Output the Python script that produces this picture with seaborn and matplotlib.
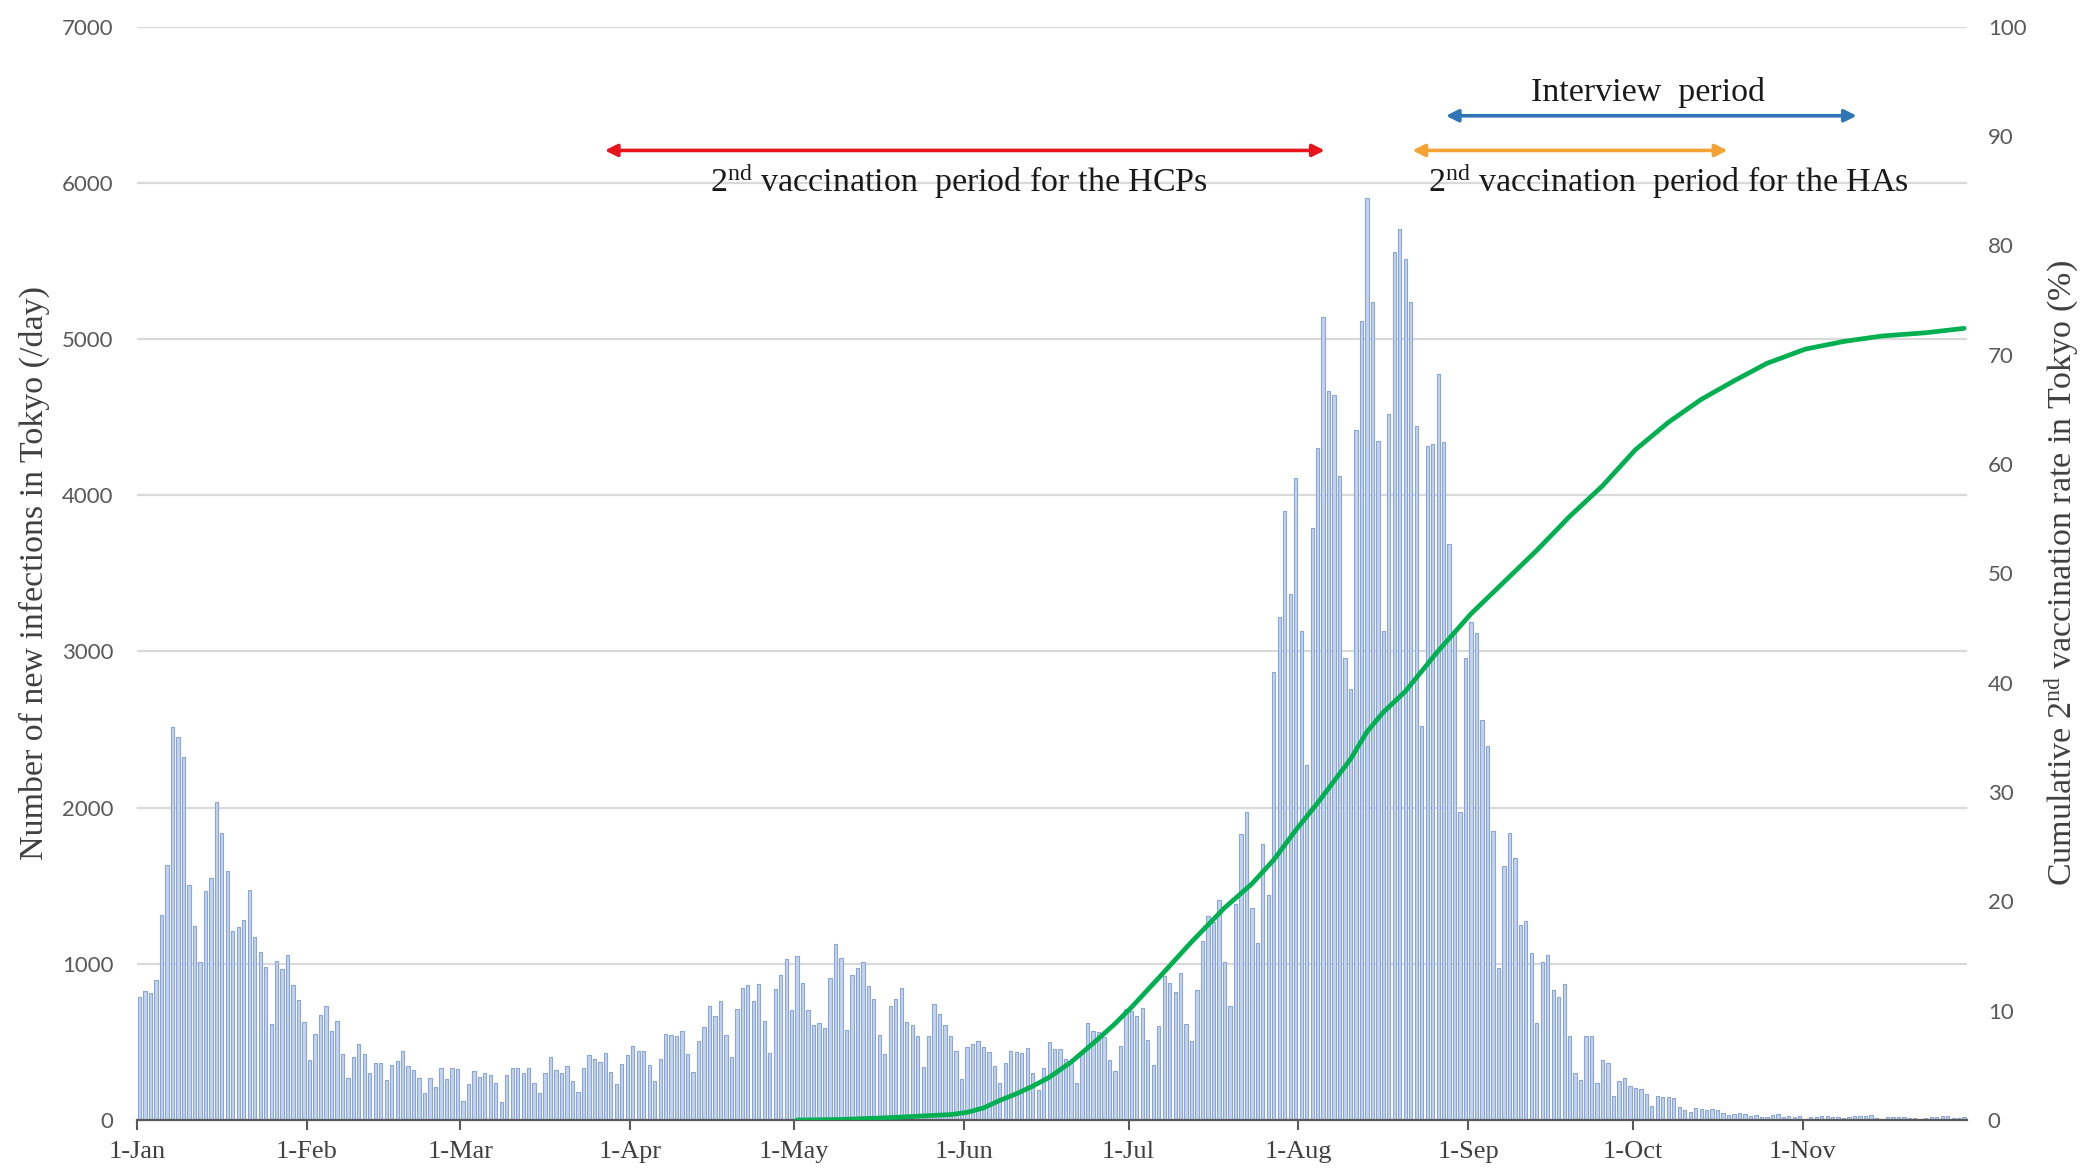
import numpy as np
import pandas as pd
import matplotlib
matplotlib.use("Agg")
import matplotlib.pyplot as plt
import seaborn as sns

# ---------------- data ----------------
jan = [786, 825, 816, 896, 1314, 1631, 2514, 2453, 2325, 1506, 1244, 1014, 1467, 1550, 2036, 1836,
       1592, 1208, 1236, 1278, 1475, 1172, 1075, 981, 615, 1020, 970, 1055, 865, 766, 626]
feb = [385, 553, 672, 733, 570, 635, 423, 270, 403, 485, 422, 302, 365, 366, 258, 350, 378, 440,
       345, 320, 268, 172, 270, 210, 333, 262, 335, 327]
mar = [119, 230, 312, 275, 299, 289, 236, 116, 287, 336, 333, 304, 330, 235, 170, 298, 405, 320,
       300, 345, 252, 180, 333, 418, 392, 373, 430, 310, 229, 360, 416]
apr = [476, 440, 443, 354, 248, 392, 550, 542, 538, 571, 420, 306, 508, 594, 730, 668, 761, 543,
       404, 714, 846, 862, 761, 873, 634, 430, 836, 930, 1028, 702]
may = [1050, 880, 705, 609, 621, 590, 908, 1130, 1035, 574, 930, 975, 1013, 857, 773, 542, 420,
       732, 773, 846, 630, 610, 540, 337, 539, 743, 682, 611, 539, 440, 262]
jun = [466, 485, 506, 465, 436, 348, 235, 367, 440, 435, 430, 463, 302, 195, 334, 500, 453, 453,
       388, 376, 236, 435, 619, 570, 562, 534, 386, 317, 476, 714]
jul = [700, 663, 720, 513, 350, 600, 921, 875, 822, 942, 612, 504, 832, 1148, 1306, 1268, 1409,
       1010, 732, 1386, 1833, 1973, 1358, 1135, 1770, 1440, 2870, 3220, 3900, 3370, 4110]
aug = [3130, 2270, 3790, 4300, 5140, 4670, 4640, 4120, 2960, 2760, 4420, 5115, 5900, 5235, 4350,
       3130, 4520, 5555, 5705, 5515, 5235, 4445, 2520, 4315, 4330, 4775, 4340, 3690, 3120, 1970, 2960]
sep = [3190, 3120, 2560, 2397, 1850, 975, 1628, 1837, 1676, 1250, 1273, 1070, 620, 1012, 1058,
       835, 785, 868, 535, 303, 255, 540, 538, 238, 385, 362, 156, 250, 268, 220]
octo = [205, 198, 165, 90, 152, 150, 150, 140, 84, 62, 50, 78, 73, 64, 68, 67, 42, 30, 38, 42, 38,
        28, 33, 20, 18, 30, 36, 22, 25, 22, 24]
nov = [9, 18, 21, 23, 25, 21, 18, 12, 22, 29, 25, 24, 34, 10, 8, 19, 21, 21, 20, 12, 11, 7, 14, 22,
       21, 23, 24, 11, 13, 19]

month_labels = ["1-Jan", "1-Feb", "1-Mar", "1-Apr", "1-May", "1-Jun",
                "1-Jul", "1-Aug", "1-Sep", "1-Oct", "1-Nov"]
month_start = [0, 31, 59, 90, 120, 151, 181, 212, 243, 273, 304]   # day index of 1st of month

# cumulative 2nd vaccination rate in Tokyo (%), day index -> value
vax_day = [120, 128, 136, 142, 148, 151, 154, 157, 160, 163, 166, 170, 174, 178, 181, 186, 192,
           198, 203, 207, 211, 215, 218, 221, 224, 227, 231, 237, 243, 249, 255, 261, 267, 273,
           279, 285, 291, 297, 304, 311, 318, 326, 333]
vax_rate = [0.0, 0.05, 0.2, 0.35, 0.5, 0.7, 1.1, 1.8, 2.4, 3.1, 3.9, 5.3, 7.0, 8.8, 10.3, 13.0,
            16.3, 19.4, 21.6, 23.8, 26.5, 29.0, 31.0, 33.0, 35.5, 37.3, 39.2, 42.9, 46.3, 49.2,
            52.1, 55.2, 58.0, 61.3, 63.8, 65.9, 67.6, 69.2, 70.5, 71.2, 71.7, 72.0, 72.4]

left_label = "Number of new infections in Tokyo (/day)"
right_label = "Cumulative 2$^{\\mathrm{nd}}$ vaccination rate in Tokyo (%)"
hcp_text = "2$^{\\mathrm{nd}}$ vaccination  period for the HCPs"
ha_text = "2$^{\\mathrm{nd}}$ vaccination  period for the HAs"
interview_text = "Interview  period"

# ---------------- styling ----------------
sns.set_theme(style="white")
plt.rcParams["font.family"] = ["Liberation Serif", "DejaVu Serif"]
plt.rcParams["mathtext.fontset"] = "custom"
plt.rcParams["mathtext.rm"] = "Liberation Serif"
plt.rcParams["mathtext.it"] = "Liberation Serif:italic"
plt.rcParams["mathtext.bf"] = "Liberation Serif:bold"

cases = jan + feb + mar + apr + may + jun + jul + aug + sep + octo + nov
ndays = len(cases)
df = pd.DataFrame({"day": np.arange(ndays), "cases": cases})
vdf = pd.DataFrame({"day": vax_day, "rate": vax_rate})

fig = plt.figure(figsize=(20.84, 11.70), dpi=100)
ax = fig.add_axes([0.0657, 0.0427, 0.8781, 0.9346])

sns.barplot(data=df, x="day", y="cases", native_scale=True, width=0.6,
            color="#c3d3ee", saturation=1, edgecolor="#8aa5d6", linewidth=0.8,
            ax=ax, zorder=2)

ax.set_xlim(-0.5, ndays - 0.5)
ax.set_ylim(0, 7000)
ax.set_yticks(range(0, 7001, 1000))
ax.yaxis.grid(True, color="#d9d9d9", lw=1.6)
ax.xaxis.grid(False)
ax.set_axisbelow(True)
for s in ["left", "right", "top"]:
    ax.spines[s].set_visible(False)
ax.spines["bottom"].set_color("#595959")
ax.spines["bottom"].set_linewidth(1.6)
ax.spines["bottom"].set_zorder(3)

ax.set_xticks([d - 0.5 for d in month_start])
ax.set_xticklabels(month_labels)
ax.tick_params(axis="x", length=7, width=1.5, color="#595959", labelsize=19,
               labelcolor="#404040", pad=8, direction="out", bottom=True)
ax.tick_params(axis="y", length=0, labelsize=16, labelcolor="#595959", pad=17)
for lbl in ax.get_yticklabels():
    lbl.set_family("Lato")
ax.set_xlabel("")
ax.set_ylabel(left_label, fontsize=24.5, color="#404040")
ax.yaxis.set_label_coords(-0.0475, 0.5)

# annotations
arrows = [  # (x0, x1, y, colour)
    (84.9, 216.3, 6207, "#e8141b"),
    (238.4, 313.4, 6429, "#2e75b6"),
    (232.3, 289.8, 6207, "#f4a233"),
]
for x0, x1, y, c in arrows:
    ax.annotate("", xy=(x1, y), xytext=(x0, y),
                arrowprops=dict(arrowstyle="<|-|>", color=c, lw=2.6,
                                mutation_scale=18, shrinkA=0, shrinkB=0), zorder=5)
ax.text(149.6, 6010, hcp_text, ha="center", va="center", fontsize=24.5, color="#1a1a1a")
ax.text(279.0, 6010, ha_text, ha="center", va="center", fontsize=24.5, color="#1a1a1a")
ax.text(275.3, 6580, interview_text, ha="center", va="center", fontsize=24.5, color="#1a1a1a")

# secondary axis: vaccination rate
ax2 = ax.twinx()
sns.lineplot(data=vdf, x="day", y="rate", ax=ax2, color="#00b050", lw=3.4)
ax2.set_xlim(-0.5, ndays - 0.5)
ax2.set_ylim(0, 100)
ax2.set_yticks(range(0, 101, 10))
ax2.grid(False)
for s in ["left", "right", "top", "bottom"]:
    ax2.spines[s].set_visible(False)
ax2.tick_params(axis="y", length=0, labelsize=16, labelcolor="#595959", pad=15)
for lbl in ax2.get_yticklabels():
    lbl.set_family("Lato")
ax2.set_xlabel("")
ax2.set_ylabel(right_label, fontsize=24.5, color="#404040", rotation=90)
ax2.yaxis.set_label_coords(1.0415, 0.5)

fig.savefig("out.png", dpi=100, facecolor="white")
